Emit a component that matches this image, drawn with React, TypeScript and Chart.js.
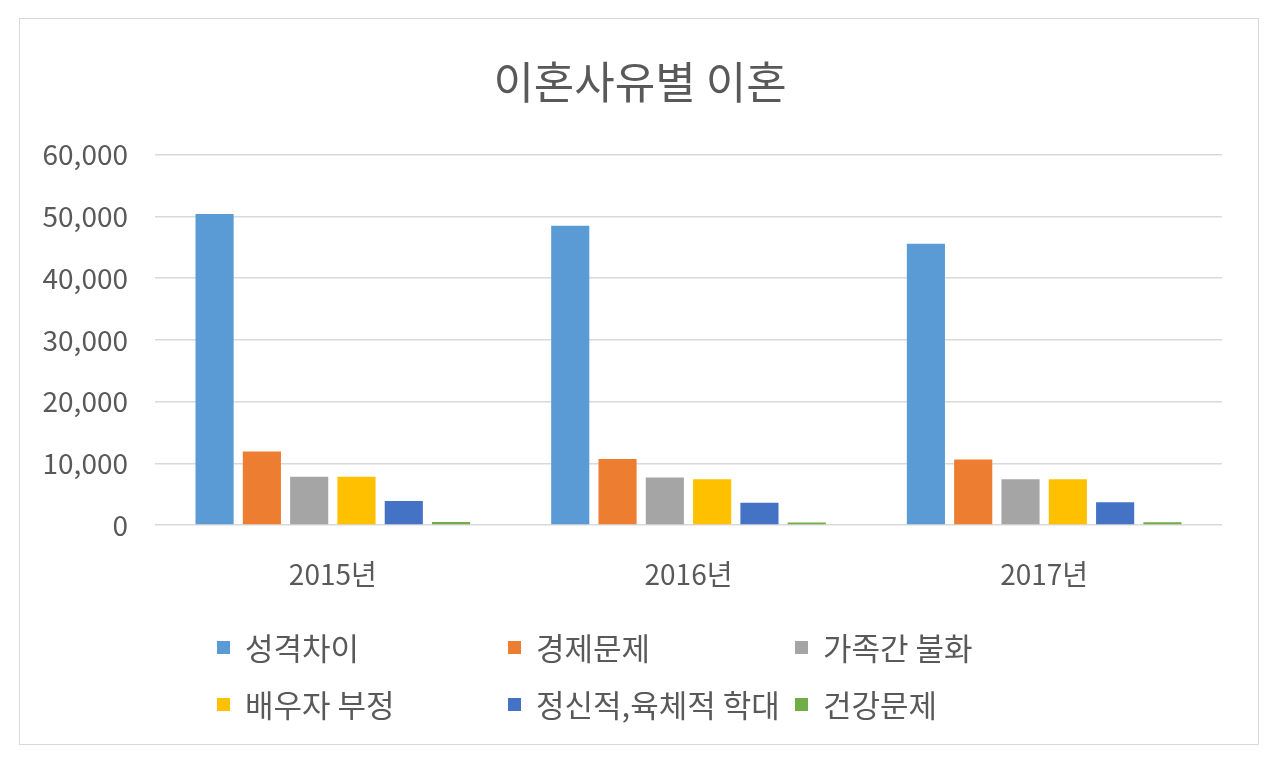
import React, { useEffect, useRef } from "react";
import { Chart, registerables } from "chart.js";

Chart.register(...registerables);

const categories = ["2015년", "2016년", "2017년"];
const seriesNames = ["성격차이", "경제문제", "가족간 불화", "배우자 부정", "정신적,육체적 학대", "건강문제"];
const personality = [50400, 48500, 45600];
const economic = [11900, 10700, 10600];
const family = [7800, 7700, 7400];
const infidelity = [7800, 7400, 7400];
const abuse = [3900, 3600, 3700];
const health = [500, 400, 450];
const seriesValues = [personality, economic, family, infidelity, abuse, health];
const seriesColors = ["#5B9BD5", "#ED7D31", "#A5A5A5", "#FFC000", "#4472C4", "#70AD47"];
const yTicks = [0, 10000, 20000, 30000, 40000, 50000, 60000];

const FONT = "'Noto Sans CJK KR', 'Noto Sans', sans-serif";
const TEXT = "#595959";

const gridLegend = {
  id: "gridLegend",
  afterDraw(chart: any) {
    const ctx = chart.ctx;
    const colX = [217, 508, 795];
    const rowY = [648, 705];
    ctx.save();
    ctx.font = `31px ${FONT}`;
    ctx.textBaseline = "middle";
    ctx.textAlign = "left";
    chart.data.datasets.forEach((ds: any, i: number) => {
      const x = colX[i % 3];
      const y = rowY[Math.floor(i / 3)];
      ctx.fillStyle = ds.backgroundColor;
      ctx.fillRect(x, y - 7, 13, 13);
      ctx.fillStyle = TEXT;
      ctx.fillText(ds.label, x + 28, y);
    });
    ctx.restore();
  },
};

export default function App() {
  const ref = useRef<HTMLCanvasElement>(null);
  useEffect(() => {
    document.body.style.margin = "0";
    const chart = new Chart(ref.current!, {
      type: "bar",
      data: {
        labels: categories,
        datasets: seriesNames.map((name, i) => ({
          label: name,
          data: seriesValues[i],
          backgroundColor: seriesColors[i],
          borderWidth: 0,
          categoryPercentage: 0.798,
          barPercentage: 0.806,
        })),
      },
      options: {
        responsive: false,
        animation: false,
        layout: { padding: { left: 20, right: 20, top: 0, bottom: 0 } },
        plugins: {
          legend: { display: false },
          tooltip: { enabled: false },
          title: {
            display: true,
            text: "이혼사유별 이혼",
            color: TEXT,
            font: { family: FONT, size: 44, weight: "normal" },
            padding: { top: 56, bottom: 46 },
          },
        },
        scales: {
          x: {
            grid: { display: false },
            border: { display: false },
            ticks: { color: TEXT, font: { family: FONT, size: 28 }, padding: 25 },
            afterFit: (s: any) => { s.height = 238; },
          },
          y: {
            min: 0,
            max: 60000,
            border: { display: false },
            grid: { color: "#d9d9d9", lineWidth: 1.5, drawTicks: false },
            afterBuildTicks: (s: any) => { s.ticks = yTicks.map((v) => ({ value: v })); },
            ticks: {
              color: TEXT,
              font: { family: FONT, size: 28 },
              padding: 27,
              callback: (v: any) => Number(v).toLocaleString("en-US"),
            },
            afterFit: (s: any) => { s.width = 135; },
          },
          spacer: {
            position: "right",
            display: true,
            grid: { display: false },
            border: { display: false },
            ticks: { display: false },
            afterFit: (s: any) => { s.width = 38; },
          },
        },
      },
      plugins: [gridLegend],
    });
    return () => chart.destroy();
  }, []);
  return (
    <div style={{ position: "relative", width: 1280, height: 763, background: "#fff" }}>
      <div style={{ position: "absolute", left: 19, top: 18, width: 1238, height: 725, border: "1.5px solid #d9d9d9" }} />
      <canvas ref={ref} width={1280} height={763} style={{ position: "absolute", left: 0, top: 0 }} />
    </div>
  );
}
